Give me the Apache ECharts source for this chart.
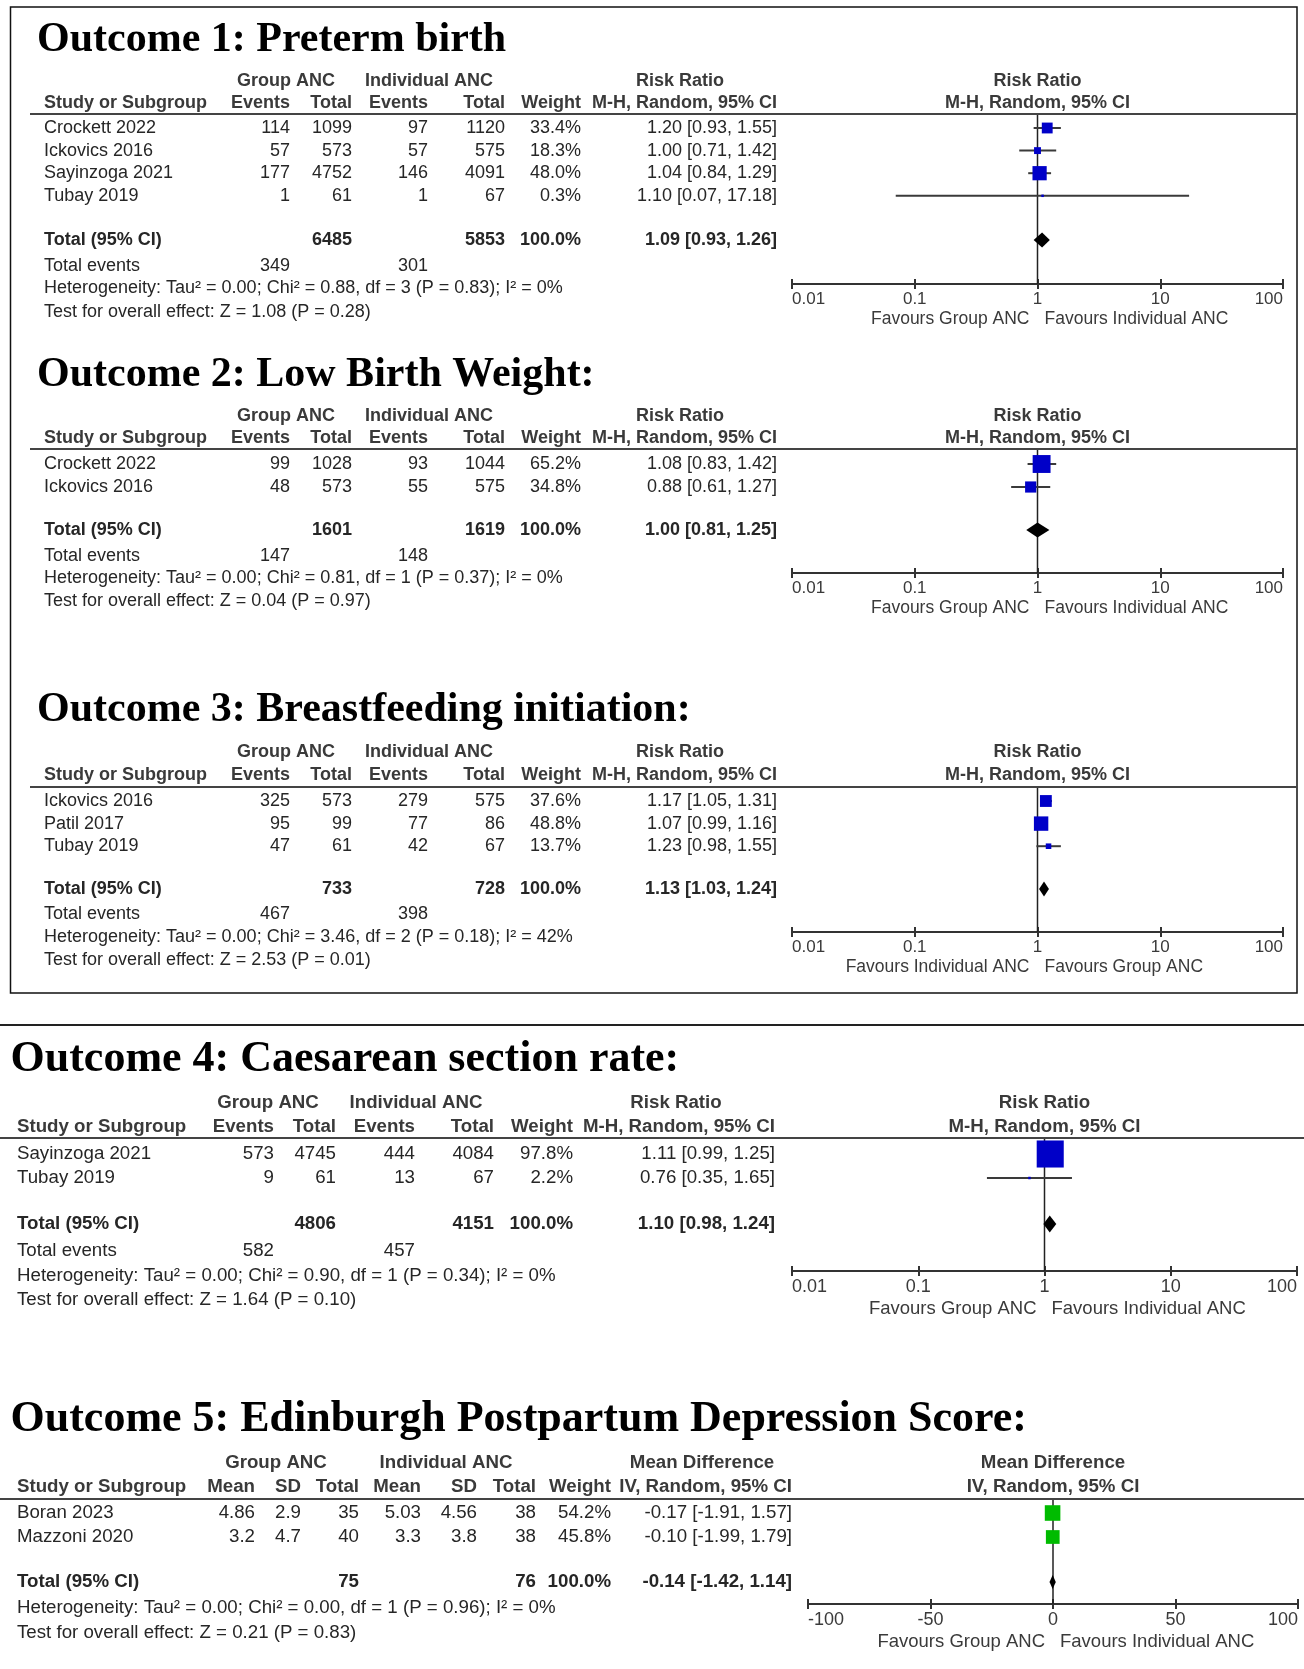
<!DOCTYPE html>
<html><head><meta charset="utf-8">
<script src="https://cdn.jsdelivr.net/npm/echarts@6/dist/echarts.min.js"></script>
<style>html,body{margin:0;padding:0;background:#fff}#c{width:1304px;height:1669px}</style>
</head><body><div id="c"></div>
<script>
// ================= DATA =================
// Tick labels / axis ranges
const rrTicks = [0.01, 0.1, 1, 10, 100];
const mdTicks = [-100, -50, 0, 50, 100];

// Outcome 1: Preterm birth
const o1Title = 'Outcome 1: Preterm birth';
const o1Studies = ['Crockett 2022', 'Ickovics 2016', 'Sayinzoga 2021', 'Tubay 2019'];
const o1GrpEvents = [114, 57, 177, 1];
const o1GrpTotal = [1099, 573, 4752, 61];
const o1IndEvents = [97, 57, 146, 1];
const o1IndTotal = [1120, 575, 4091, 67];
const o1Weight = [33.4, 18.3, 48.0, 0.3];
const o1Est = [1.20, 1.00, 1.04, 1.10];
const o1Lo = [0.93, 0.71, 0.84, 0.07];
const o1Hi = [1.55, 1.42, 1.29, 17.18];
const o1Pooled = [1.09, 0.93, 1.26];
const o1Totals = [6485, 5853, 100.0];
const o1TotalEvents = [349, 301];
const o1Het = ['0.00', '0.88', '3', '0.83', '0'];
const o1Overall = ['1.08', '0.28'];
const o1Favours = ['Favours Group ANC', 'Favours Individual ANC'];

// Outcome 2: Low Birth Weight
const o2Title = 'Outcome 2: Low Birth Weight:';
const o2Studies = ['Crockett 2022', 'Ickovics 2016'];
const o2GrpEvents = [99, 48];
const o2GrpTotal = [1028, 573];
const o2IndEvents = [93, 55];
const o2IndTotal = [1044, 575];
const o2Weight = [65.2, 34.8];
const o2Est = [1.08, 0.88];
const o2Lo = [0.83, 0.61];
const o2Hi = [1.42, 1.27];
const o2Pooled = [1.00, 0.81, 1.25];
const o2Totals = [1601, 1619, 100.0];
const o2TotalEvents = [147, 148];
const o2Het = ['0.00', '0.81', '1', '0.37', '0'];
const o2Overall = ['0.04', '0.97'];
const o2Favours = ['Favours Group ANC', 'Favours Individual ANC'];

// Outcome 3: Breastfeeding initiation
const o3Title = 'Outcome 3: Breastfeeding initiation:';
const o3Studies = ['Ickovics 2016', 'Patil 2017', 'Tubay 2019'];
const o3GrpEvents = [325, 95, 47];
const o3GrpTotal = [573, 99, 61];
const o3IndEvents = [279, 77, 42];
const o3IndTotal = [575, 86, 67];
const o3Weight = [37.6, 48.8, 13.7];
const o3Est = [1.17, 1.07, 1.23];
const o3Lo = [1.05, 0.99, 0.98];
const o3Hi = [1.31, 1.16, 1.55];
const o3Pooled = [1.13, 1.03, 1.24];
const o3Totals = [733, 728, 100.0];
const o3TotalEvents = [467, 398];
const o3Het = ['0.00', '3.46', '2', '0.18', '42'];
const o3Overall = ['2.53', '0.01'];
const o3Favours = ['Favours Individual ANC', 'Favours Group ANC'];

// Outcome 4: Caesarean section rate
const o4Title = 'Outcome 4: Caesarean section rate:';
const o4Studies = ['Sayinzoga 2021', 'Tubay 2019'];
const o4GrpEvents = [573, 9];
const o4GrpTotal = [4745, 61];
const o4IndEvents = [444, 13];
const o4IndTotal = [4084, 67];
const o4Weight = [97.8, 2.2];
const o4Est = [1.11, 0.76];
const o4Lo = [0.99, 0.35];
const o4Hi = [1.25, 1.65];
const o4Pooled = [1.10, 0.98, 1.24];
const o4Totals = [4806, 4151, 100.0];
const o4TotalEvents = [582, 457];
const o4Het = ['0.00', '0.90', '1', '0.34', '0'];
const o4Overall = ['1.64', '0.10'];
const o4Favours = ['Favours Group ANC', 'Favours Individual ANC'];

// Outcome 5: Edinburgh Postpartum Depression Score
const o5Title = 'Outcome 5: Edinburgh Postpartum Depression Score:';
const o5Studies = ['Boran 2023', 'Mazzoni 2020'];
const o5GrpMean = ['4.86', '3.2'];
const o5GrpSD = ['2.9', '4.7'];
const o5GrpN = [35, 40];
const o5IndMean = ['5.03', '3.3'];
const o5IndSD = ['4.56', '3.8'];
const o5IndN = [38, 38];
const o5Weight = [54.2, 45.8];
const o5Est = [-0.17, -0.10];
const o5Lo = [-1.91, -1.99];
const o5Hi = [1.57, 1.79];
const o5Pooled = [-0.14, -1.42, 1.14];
const o5Totals = [75, 76, 100.0];
const o5Het = ['0.00', '0.00', '1', '0.96', '0'];
const o5Overall = ['0.21', '0.83'];
const o5Favours = ['Favours Group ANC', 'Favours Individual ANC'];

// ================= ASSEMBLY =================
const outcomes = [
  {kind:'rr', title:o1Title, studies:o1Studies, c1:o1GrpEvents, c2:o1GrpTotal, c3:o1IndEvents, c4:o1IndTotal, weight:o1Weight, est:o1Est, lo:o1Lo, hi:o1Hi, pooled:o1Pooled, totals:o1Totals, events:o1TotalEvents, het:o1Het, overall:o1Overall, favours:o1Favours},
  {kind:'rr', title:o2Title, studies:o2Studies, c1:o2GrpEvents, c2:o2GrpTotal, c3:o2IndEvents, c4:o2IndTotal, weight:o2Weight, est:o2Est, lo:o2Lo, hi:o2Hi, pooled:o2Pooled, totals:o2Totals, events:o2TotalEvents, het:o2Het, overall:o2Overall, favours:o2Favours},
  {kind:'rr', title:o3Title, studies:o3Studies, c1:o3GrpEvents, c2:o3GrpTotal, c3:o3IndEvents, c4:o3IndTotal, weight:o3Weight, est:o3Est, lo:o3Lo, hi:o3Hi, pooled:o3Pooled, totals:o3Totals, events:o3TotalEvents, het:o3Het, overall:o3Overall, favours:o3Favours},
  {kind:'rr', title:o4Title, studies:o4Studies, c1:o4GrpEvents, c2:o4GrpTotal, c3:o4IndEvents, c4:o4IndTotal, weight:o4Weight, est:o4Est, lo:o4Lo, hi:o4Hi, pooled:o4Pooled, totals:o4Totals, events:o4TotalEvents, het:o4Het, overall:o4Overall, favours:o4Favours},
  {kind:'md', title:o5Title, studies:o5Studies, m1:o5GrpMean, s1:o5GrpSD, n1:o5GrpN, m2:o5IndMean, s2:o5IndSD, n2:o5IndN, weight:o5Weight, est:o5Est, lo:o5Lo, hi:o5Hi, pooled:o5Pooled, totals:o5Totals, het:o5Het, overall:o5Overall, favours:o5Favours}
];

// ================= LAYOUT (positions / styles only) =================
const colsA = {name:44, a:290, b:352, c:428, d:505, w:581, ci:777};
const colsB = {name:17, a:274, b:336, c:415, d:494, w:573, ci:775};
const colsC = {name:17, m1:255, s1:301, n1:359, m2:421, s2:477, n2:536, w:611, ci:792};
const layouts = [
  {titleX:37, titleY:40, titleSize:42, font:18, hdr1:81, hdr2:103, sep:114, sepX0:30, sepX1:1297, row0:128, step:22.6, totalY:240, eventsY:266, hetY:288.5, testY:312, axisY:284, axL:792, axR:1283, col:colsA, hdrGrp:286, hdrInd:429, hdrEff:680, favY:319, tickFont:17, sq:0.78, dh:7.5},
  {titleX:37, titleY:375, titleSize:42, font:18, hdr1:416, hdr2:438, sep:449, sepX0:30, sepX1:1297, row0:464, step:23, totalY:530, eventsY:556, hetY:578, testY:601, axisY:573, axL:792, axR:1283, col:colsA, hdrGrp:286, hdrInd:429, hdrEff:680, favY:608, tickFont:17, sq:0.78, dh:7.5},
  {titleX:37, titleY:710, titleSize:42, font:18, hdr1:752, hdr2:775, sep:787, sepX0:30, sepX1:1297, row0:801, step:22.6, totalY:889, eventsY:914, hetY:937, testY:960, axisY:932, axL:792, axR:1283, col:colsA, hdrGrp:286, hdrInd:429, hdrEff:680, favY:967, tickFont:17, sq:0.78, dh:7.5},
  {titleX:10.5, titleY:1060, titleSize:44, font:18.7, hdr1:1103, hdr2:1127, sep:1138, sepX0:0, sepX1:1304, row0:1154, step:24, totalY:1224, eventsY:1251, hetY:1276, testY:1300, axisY:1271, axL:792, axR:1297, col:colsB, hdrGrp:268, hdrInd:416, hdrEff:676, favY:1309, tickFont:18, sq:0.87, dh:8.5},
  {titleX:10.5, titleY:1420, titleSize:44, font:18.7, hdr1:1463, hdr2:1487, sep:1499, sepX0:0, sepX1:1304, row0:1513, step:24, totalY:1582, hetY:1608, testY:1633, axisY:1604, axL:808, axR:1298, col:colsC, hdrGrp:276, hdrInd:446, hdrEff:702, favY:1642, tickFont:18, sq:0.78, dh:7}
];

const SANS = '"Liberation Sans", Arial, Helvetica, sans-serif';
const SERIF = '"Liberation Serif", "Times New Roman", serif';
const TXT = '#262626', HDR = '#3a3a3a';
const graphics = [];
function T(x, y, text, align, bold, size, color, family) {
  graphics.push({type:'text', x:x, y:y, silent:true, z:10,
    style:{text:String(text), align:align, textAlign:align, verticalAlign:'middle', textVerticalAlign:'middle',
      fontSize:size, fontWeight:bold?'bold':'normal', fontFamily:family||SANS, fill:color||TXT}});
}
function L(x1, y1, x2, y2, w, color) {
  graphics.push({type:'line', silent:true, z:9, shape:{x1:x1,y1:y1,x2:x2,y2:y2}, style:{stroke:color||'#333', lineWidth:w}});
}
const f2 = v => v.toFixed(2);
const ciText = (e, l, h) => f2(e) + ' [' + f2(l) + ', ' + f2(h) + ']';

// frame for outcomes 1-3 and divider before outcome 4
graphics.push({type:'rect', silent:true, z:9, shape:{x:10.5, y:7, width:1286.5, height:986}, style:{fill:'none', stroke:'#111', lineWidth:1.5}});
L(0, 1025, 1304, 1025, 2, '#222');

const grids = [], xAxes = [], yAxes = [], series = [];

outcomes.forEach((o, k) => {
  const g = layouts[k], c = g.col, fs = g.font;
  const cx = (g.axL + g.axR) / 2;
  const rowY = i => g.row0 + i * g.step;
  const isRR = o.kind === 'rr';
  // title
  T(g.titleX, g.titleY, o.title, 'left', true, g.titleSize, '#000', SERIF);
  // headers
  T(g.hdrGrp, g.hdr1, 'Group ANC', 'center', true, fs, HDR);
  T(g.hdrInd, g.hdr1, 'Individual ANC', 'center', true, fs, HDR);
  const effName = isRR ? 'Risk Ratio' : 'Mean Difference';
  const effMethod = isRR ? 'M-H, Random, 95% CI' : 'IV, Random, 95% CI';
  T(g.hdrEff, g.hdr1, effName, 'center', true, fs, HDR);
  T(c.ci, g.hdr2, effMethod, 'right', true, fs, HDR);
  T(cx, g.hdr1, effName, 'center', true, fs, HDR);
  T(cx, g.hdr2, effMethod, 'center', true, fs, HDR);
  T(c.name, g.hdr2, 'Study or Subgroup', 'left', true, fs, HDR);
  if (isRR) {
    T(c.a, g.hdr2, 'Events', 'right', true, fs, HDR);
    T(c.b, g.hdr2, 'Total', 'right', true, fs, HDR);
    T(c.c, g.hdr2, 'Events', 'right', true, fs, HDR);
    T(c.d, g.hdr2, 'Total', 'right', true, fs, HDR);
  } else {
    T(c.m1, g.hdr2, 'Mean', 'right', true, fs, HDR);
    T(c.s1, g.hdr2, 'SD', 'right', true, fs, HDR);
    T(c.n1, g.hdr2, 'Total', 'right', true, fs, HDR);
    T(c.m2, g.hdr2, 'Mean', 'right', true, fs, HDR);
    T(c.s2, g.hdr2, 'SD', 'right', true, fs, HDR);
    T(c.n2, g.hdr2, 'Total', 'right', true, fs, HDR);
  }
  T(c.w, g.hdr2, 'Weight', 'right', true, fs, HDR);
  L(g.sepX0, g.sep, g.sepX1, g.sep, 2, '#444');

  // study rows
  o.studies.forEach((s, i) => {
    const y = rowY(i);
    T(c.name, y, s, 'left', false, fs);
    if (isRR) {
      T(c.a, y, o.c1[i], 'right', false, fs);
      T(c.b, y, o.c2[i], 'right', false, fs);
      T(c.c, y, o.c3[i], 'right', false, fs);
      T(c.d, y, o.c4[i], 'right', false, fs);
    } else {
      T(c.m1, y, o.m1[i], 'right', false, fs);
      T(c.s1, y, o.s1[i], 'right', false, fs);
      T(c.n1, y, o.n1[i], 'right', false, fs);
      T(c.m2, y, o.m2[i], 'right', false, fs);
      T(c.s2, y, o.s2[i], 'right', false, fs);
      T(c.n2, y, o.n2[i], 'right', false, fs);
    }
    T(c.w, y, o.weight[i].toFixed(1) + '%', 'right', false, fs);
    T(c.ci, y, ciText(o.est[i], o.lo[i], o.hi[i]), 'right', false, fs);
  });
  // total row
  T(c.name, g.totalY, 'Total (95% CI)', 'left', true, fs);
  T(isRR ? c.b : c.n1, g.totalY, o.totals[0], 'right', true, fs);
  T(isRR ? c.d : c.n2, g.totalY, o.totals[1], 'right', true, fs);
  T(c.w, g.totalY, o.totals[2].toFixed(1) + '%', 'right', true, fs);
  T(c.ci, g.totalY, ciText(o.pooled[0], o.pooled[1], o.pooled[2]), 'right', true, fs);
  if (isRR) {
    T(c.name, g.eventsY, 'Total events', 'left', false, fs);
    T(c.a, g.eventsY, o.events[0], 'right', false, fs);
    T(c.c, g.eventsY, o.events[1], 'right', false, fs);
  }
  const h = o.het;
  T(c.name, g.hetY, 'Heterogeneity: Tau\u00B2 = ' + h[0] + '; Chi\u00B2 = ' + h[1] + ', df = ' + h[2] + ' (P = ' + h[3] + '); I\u00B2 = ' + h[4] + '%', 'left', false, fs);
  T(c.name, g.testY, 'Test for overall effect: Z = ' + o.overall[0] + ' (P = ' + o.overall[1] + ')', 'left', false, fs);
  // favours
  T(cx - 8, g.favY, o.favours[0], 'right', false, g.tickFont + 0.5, '#3a3a3a');
  T(cx + 7, g.favY, o.favours[1], 'left', false, g.tickFont + 0.5, '#3a3a3a');

  // ---- forest plot grid ----
  const yMin = (g.sep - g.row0) / g.step;
  const yMax = (g.axisY - g.row0) / g.step;
  const totalSlot = (g.totalY - g.row0) / g.step;
  grids.push({left:g.axL, top:g.sep, width:g.axR - g.axL, height:g.axisY - g.sep, containLabel:false});
  const ticks = isRR ? rrTicks : mdTicks;
  const baseX = isRR
    ? {type:'log', logBase:10, min:ticks[0], max:ticks[ticks.length - 1]}
    : {type:'value', min:ticks[0], max:ticks[ticks.length - 1], interval:ticks[1] - ticks[0]};
  xAxes.push(Object.assign({}, baseX, {
    gridIndex:k, position:'bottom',
    axisLine:{show:true, onZero:false, lineStyle:{color:'#333', width:2}},
    axisTick:{show:true, inside:true, length:5, lineStyle:{color:'#333', width:2}},
    axisLabel:{show:true, margin:7, fontSize:g.tickFont, color:'#3a3a3a', fontFamily:SANS,
      showMinLabel:true, showMaxLabel:true, alignMinLabel:'left', alignMaxLabel:'right',
      formatter: v => String(+(+v).toPrecision(6))},
    splitLine:{show:false}
  }));
  xAxes.push(Object.assign({}, baseX, {
    gridIndex:k, position:'bottom',
    axisLine:{show:true, onZero:false, lineStyle:{color:'#333', width:2}},
    axisTick:{show:true, inside:false, length:5, lineStyle:{color:'#333', width:2}},
    axisLabel:{show:false}, splitLine:{show:false}
  }));
  yAxes.push({gridIndex:k, type:'value', inverse:true, min:yMin, max:yMax, show:false});
  const xi = 2 * k;
  const nullV = isRR ? 1 : 0;
  // line of no effect
  series.push({type:'line', xAxisIndex:xi, yAxisIndex:k, silent:true, z:2, symbol:'none', animation:false,
    data:[[nullV, yMin], [nullV, yMax]], lineStyle:{color:'#222', width:1.5}});
  // confidence intervals
  series.push({type:'custom', xAxisIndex:xi, yAxisIndex:k, silent:true, z:3, clip:false, animation:false,
    data:o.lo.map((l, i) => [l, o.hi[i], i]),
    encode:{x:[0, 1], y:2},
    renderItem:(p, api) => {
      const a = api.coord([api.value(0), api.value(2)]);
      const b = api.coord([api.value(1), api.value(2)]);
      return {type:'line', shape:{x1:a[0], y1:a[1], x2:b[0], y2:b[1]}, style:{stroke:'#3a3a3a', lineWidth:2}};
    }});
  // point estimates (weighted squares)
  const sqK = g.sq;
  series.push({type:'scatter', xAxisIndex:xi, yAxisIndex:k, silent:true, z:4, symbol:'rect', animation:false,
    data:o.est.map((e, i) => [e, i, o.weight[i]]),
    symbolSize:v => Math.max(2.5, sqK * Math.pow(v[2], 0.75)),
    itemStyle:{color:isRR ? '#0000C8' : '#00BB00', opacity:1}});
  // pooled diamond
  const dh = g.dh;
  series.push({type:'custom', xAxisIndex:xi, yAxisIndex:k, silent:true, z:5, clip:false, animation:false,
    data:[[o.pooled[0], o.pooled[1], o.pooled[2], totalSlot]],
    encode:{x:[1, 2], y:3},
    renderItem:(p, api) => {
      const y = api.value(3);
      const Lp = api.coord([api.value(1), y]);
      const C = api.coord([api.value(0), y]);
      const R = api.coord([api.value(2), y]);
      return {type:'polygon', shape:{points:[[Lp[0], Lp[1]], [C[0], C[1] - dh], [R[0], R[1]], [C[0], C[1] + dh]]},
        style:{fill:'#000'}};
    }});
});

const chart = echarts.init(document.getElementById('c'), null, {renderer:'canvas'});
chart.setOption({
  backgroundColor:'#fff',
  animation:false,
  grid:grids, xAxis:xAxes, yAxis:yAxes, series:series,
  graphic:{elements:graphics}
});
</script></body></html>
